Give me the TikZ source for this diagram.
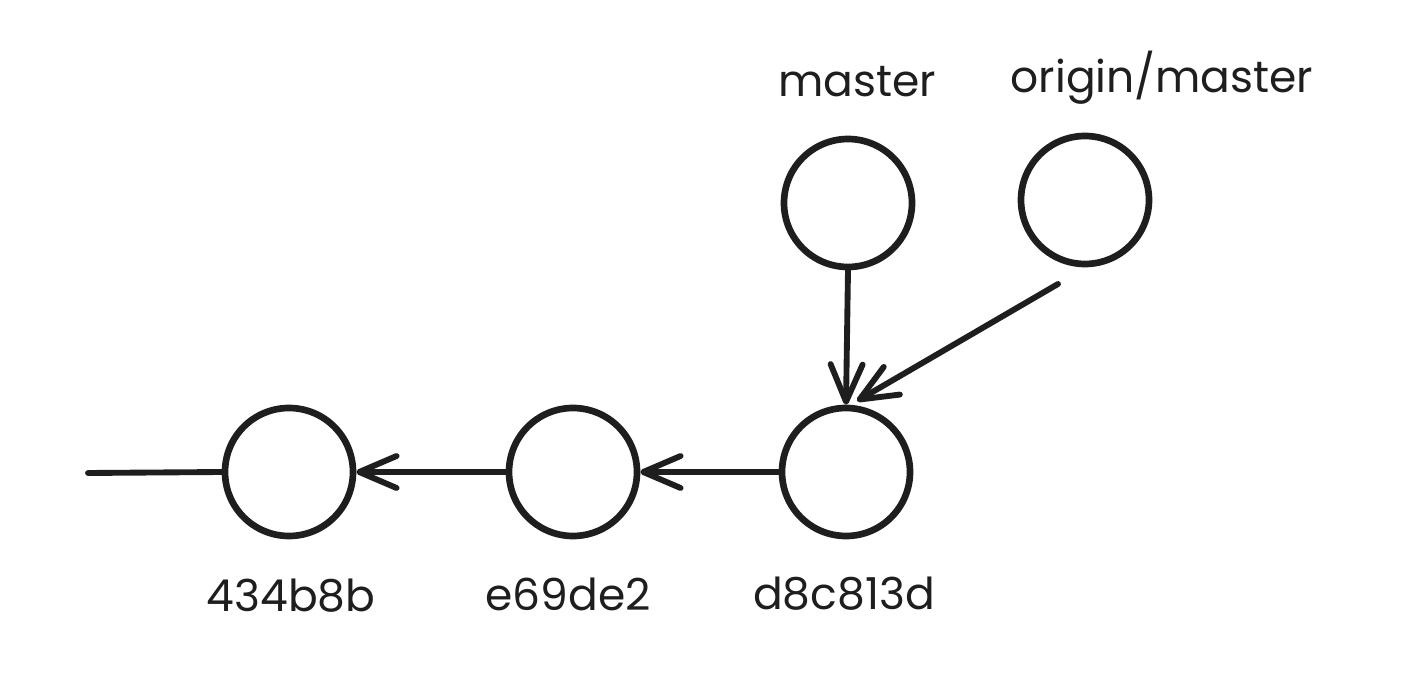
\documentclass[tikz,border=0pt]{standalone}
\usepackage{fontspec}
\setmainfont{Poppins}
\usetikzlibrary{arrows.meta}
\definecolor{ink}{HTML}{1E1E1E}
\begin{document}
\begin{tikzpicture}[x=0.75pt,y=-0.75pt,
  commit/.style={circle,draw=ink,line width=5pt,minimum size=96pt,inner sep=0pt},
  lbl/.style={text=ink,font=\fontsize{33}{36}\selectfont},
  conn/.style={draw=ink,line width=4.4pt,line cap=round},
  arr/.style={conn,-{Straight Barb[length=28pt,width=24pt,line width=4.4pt,round]}}]
\useasboundingbox (0,0) rectangle (1404,698);
\node[commit] (c1) at (289,472) {};
\node[commit] (c2) at (573,472) {};
\node[commit] (c3) at (846,472) {};
\node[commit] (m) at (848,203) {};
\node[commit] (om) at (1085,200) {};
\node[lbl] (l1) at (291,596) {434b8b};
\node[lbl] (l2) at (568,594) {e69de2};
\node[lbl] (l3) at (844,594) {d8c813d};
\node[lbl] (lm) at (857,82) {master};
\node[lbl] (lom) at (1162,78) {origin/master};
\coordinate (start) at (88,473);
\coordinate (omfoot) at (1058,284);
\coordinate (c3tip) at (857,401);
\draw[conn] (start) -- (c1.west);
\draw[arr] (c2.west) -- (c1.east);
\draw[arr] (c3.west) -- (c2.east);
\draw[arr] (m.south) -- (c3.north);
\draw[arr] (omfoot) -- (c3tip);
\end{tikzpicture}
\end{document}
